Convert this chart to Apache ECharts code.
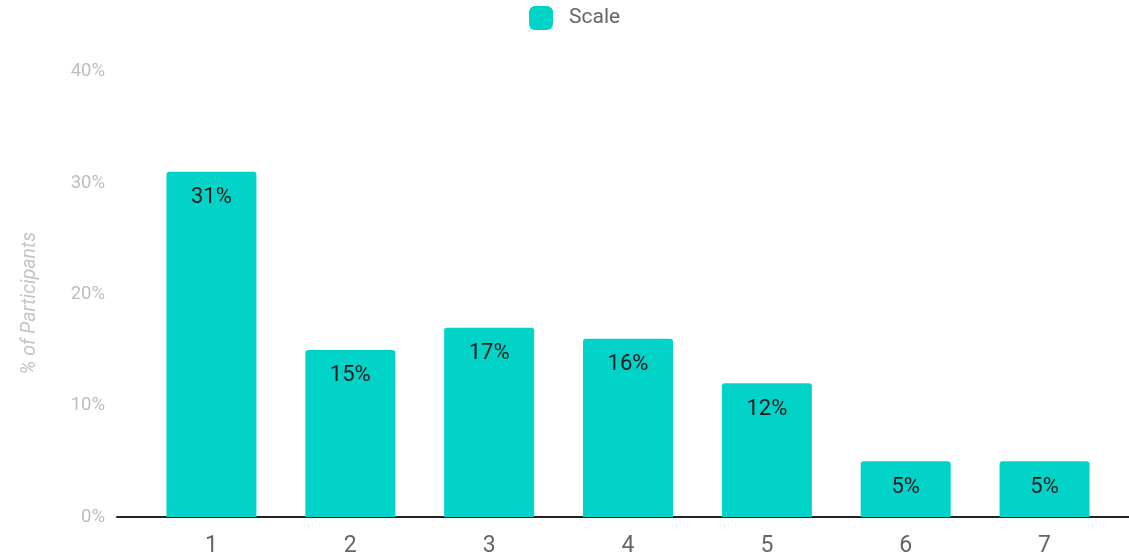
<!DOCTYPE html>
<html>
<head>
<meta charset="utf-8">
<script src="https://cdn.jsdelivr.net/npm/echarts@6/dist/echarts.min.js"></script>
<style>
  html, body { margin: 0; padding: 0; background: #ffffff; }
  #chart { width: 1129px; height: 554px; }
</style>
</head>
<body>
<div id="chart"></div>
<script>
const categories = ['1', '2', '3', '4', '5', '6', '7'];
const scaleValues = [31, 15, 17, 16, 12, 5, 5];
const seriesName = 'Scale';
const yAxisTitle = '% of Participants';

const chart = echarts.init(document.getElementById('chart'), null, { renderer: 'canvas' });
const font = 'Roboto, "Noto Sans", sans-serif';

chart.setOption({
  animation: false,
  textStyle: { fontFamily: font },
  legend: {
    data: [seriesName],
    left: 524,
    top: 1,
    itemWidth: 24,
    itemHeight: 24,
    icon: 'roundRect',
    textStyle: { fontSize: 21, color: '#666666', padding: [4, 0, 0, 11], fontFamily: font }
  },
  grid: [
    { left: 142, right: 15, top: 71.5, bottom: 37, containLabel: false, outerBoundsMode: 'none' },
    { left: 117, right: 0, top: 71.5, bottom: 37, containLabel: false, outerBoundsMode: 'none' }
  ],
  xAxis: [
    {
      type: 'category',
      gridIndex: 0,
      data: categories,
      axisLine: { show: false },
      axisTick: { show: false },
      axisLabel: { fontSize: 23, color: '#666666', margin: 18, fontFamily: font }
    },
    {
      type: 'category',
      gridIndex: 1,
      data: categories,
      axisLine: { show: true, lineStyle: { color: '#222222', width: 2 } },
      axisTick: { show: false },
      axisLabel: { show: false }
    }
  ],
  yAxis: [
    {
      type: 'value',
      gridIndex: 0,
      min: 0,
      max: 40,
      interval: 10,
      name: yAxisTitle,
      nameLocation: 'middle',
      nameGap: 102,
      nameTextStyle: { fontSize: 19.5, color: '#c4c4c4', fontStyle: 'italic', fontFamily: font, padding: [0, 18, 0, 0] },
      axisLine: { show: false },
      axisTick: { show: false },
      splitLine: { show: false },
      axisLabel: { fontSize: 18.5, color: '#bdbdbd', margin: 37, formatter: '{value}%', fontFamily: font }
    },
    {
      type: 'value',
      gridIndex: 1,
      min: 0,
      max: 40,
      show: false
    }
  ],
  series: [
    {
      name: seriesName,
      type: 'bar',
      xAxisIndex: 0,
      yAxisIndex: 0,
      data: scaleValues,
      barWidth: 90,
      itemStyle: { color: '#02d3c9', borderRadius: [3, 3, 0, 0] },
      label: {
        show: true,
        position: 'insideTop',
        distance: 15,
        formatter: '{c}%',
        fontSize: 22,
        color: '#1a1a1a',
        fontFamily: font
      }
    }
  ]
});
</script>
</body>
</html>
